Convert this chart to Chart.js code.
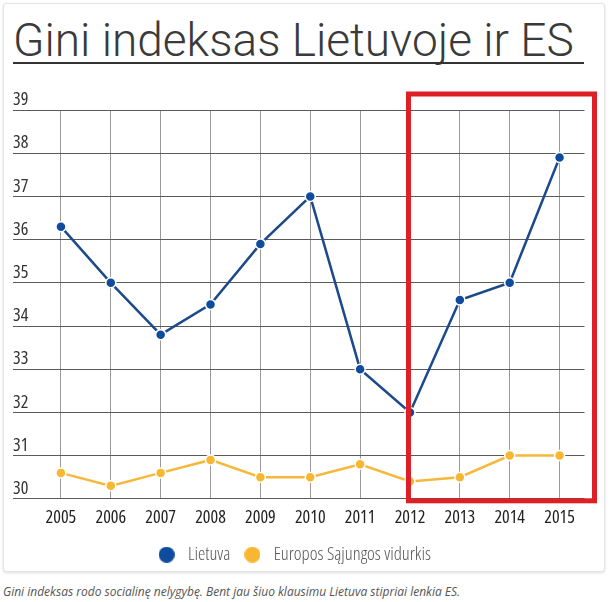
<!DOCTYPE html>
<html>
<head>
<meta charset="utf-8">
<script src="https://cdn.jsdelivr.net/npm/chart.js@4"></script>
<style>
  html, body { margin: 0; padding: 0; background: #fff; }
  body { width: 609px; height: 602px; position: relative; overflow: hidden; }
  .card { position: absolute; left: 3px; top: 3px; width: 600px; height: 567px;
          border: 1px solid #e4e4e4; border-radius: 3px; box-shadow: 0 1px 3px rgba(0,0,0,0.12); background: #fff; }
  h1 { position: absolute; left: 13px; top: 17px; margin: 0; font-family: Roboto, sans-serif; font-weight: 300;
       font-size: 46px; line-height: 46px; color: #3a3a3a; white-space: nowrap; }
  .rule { position: absolute; left: 13px; top: 62px; width: 571px; height: 2px; background: #333; }
  #wrap { position: absolute; left: 0; top: 70px; }
  .caption { position: absolute; left: 3px; top: 584px; margin: 0; font-family: 'Open Sans', sans-serif; font-style: italic;
             font-size: 12px; line-height: 16px; color: #555; white-space: nowrap; z-index: 2; }
</style>
</head>
<body>
<div class="card"></div>
<h1>Gini indeksas Lietuvoje ir ES</h1>
<div class="rule"></div>
<div id="wrap"><canvas id="c" width="609" height="512"></canvas></div>
<p class="caption">Gini indeksas rodo socialinę nelygybę. Bent jau šiuo klausimu Lietuva stipriai lenkia ES.</p>
<script>
const years = ['2005','2006','2007','2008','2009','2010','2011','2012','2013','2014','2015'];
const lietuva = [36.3, 35.0, 33.8, 34.5, 35.9, 37.0, 33.0, 32.0, 34.6, 35.0, 37.9];
const esVidurkis = [30.6, 30.3, 30.6, 30.9, 30.5, 30.5, 30.8, 30.4, 30.5, 31.0, 31.0];
const yMin = 30, yMax = 39, yStep = 1;
const highlightFrom = '2012';

const narrow = "'Open Sans', sans-serif";
const tickWeight = '400 condensed';
const legendWeight = '300 condensed';

function makeDot(color) {
  const c = document.createElement('canvas');
  c.width = 16; c.height = 16;
  const g = c.getContext('2d');
  g.fillStyle = color;
  g.beginPath(); g.arc(8, 8, 8, 0, Math.PI * 2); g.fill();
  return c;
}

const highlightBox = {
  id: 'highlightBox',
  afterLayout(chart) {
    if (chart.legend) { chart.legend.left -= 6; chart.legend.right -= 6; }
  },
  afterDraw(chart) {
    const {ctx, chartArea, scales} = chart;
    const x0 = scales.x.getPixelForValue(years.indexOf(highlightFrom)) - 1.5;
    const x1 = chartArea.right + 10;
    const y0 = scales.y.getPixelForValue(yMax) - 16;
    const y1 = scales.y.getPixelForValue(yMin) + 2;
    ctx.save();
    ctx.strokeStyle = '#dd1f26';
    ctx.lineWidth = 5;
    ctx.strokeRect(x0, y0, x1 - x0, y1 - y0);
    ctx.restore();
  }
};

new Chart(document.getElementById('c'), {
  type: 'line',
  data: {
    labels: years,
    datasets: [
      { label: 'Lietuva', data: lietuva, borderColor: '#1c4a8b', backgroundColor: '#0f4c9e',
        borderWidth: 2.5, pointRadius: 5, pointBorderColor: '#ffffff', pointBorderWidth: 1.5,
        pointBackgroundColor: '#0f4c9e', tension: 0 },
      { label: 'Europos Sąjungos vidurkis', data: esVidurkis, borderColor: '#f6b83c', backgroundColor: '#f7b731',
        borderWidth: 2.5, pointRadius: 5, pointBorderColor: '#ffffff', pointBorderWidth: 1.5,
        pointBackgroundColor: '#f7b731', tension: 0 }
    ]
  },
  options: {
    responsive: false,
    animation: false,
    layout: { padding: { left: 13, right: 24.5, top: 40, bottom: 8 } },
    plugins: {
      tooltip: { enabled: false },
      legend: {
        position: 'bottom',
        labels: {
          usePointStyle: true, pointStyleWidth: 24, boxHeight: 16,
          padding: 10, color: '#555', font: { family: narrow, size: 18.5, weight: legendWeight },
          generateLabels(chart) {
            const items = Chart.defaults.plugins.legend.labels.generateLabels(chart);
            items.forEach(it => {
              const ds = chart.data.datasets[it.datasetIndex];
              it.pointStyle = makeDot(ds.pointBackgroundColor);
              it.fontColor = '#555';
            });
            return items;
          }
        }
      }
    },
    scales: {
      x: {
        offset: true,
        grid: { color: '#9a9a9a', lineWidth: 1, drawTicks: false },
        border: { display: false },
        ticks: { color: '#222', padding: 8, font: { family: narrow, size: 18, weight: tickWeight }, maxRotation: 0 },
        afterFit(scale) { scale.height -= 0.9; }
      },
      y: {
        min: yMin, max: yMax,
        grid: { color: '#5a5a5a', lineWidth: 1, tickLength: 23 },
        border: { display: false },
        ticks: { stepSize: yStep, color: '#333', crossAlign: 'far', labelOffset: -10, padding: 0,
                 font: { family: narrow, size: 18, weight: tickWeight } },
        afterFit(scale) { scale.width = 23; }
      }
    }
  },
  plugins: [highlightBox]
});
</script>
</body>
</html>
